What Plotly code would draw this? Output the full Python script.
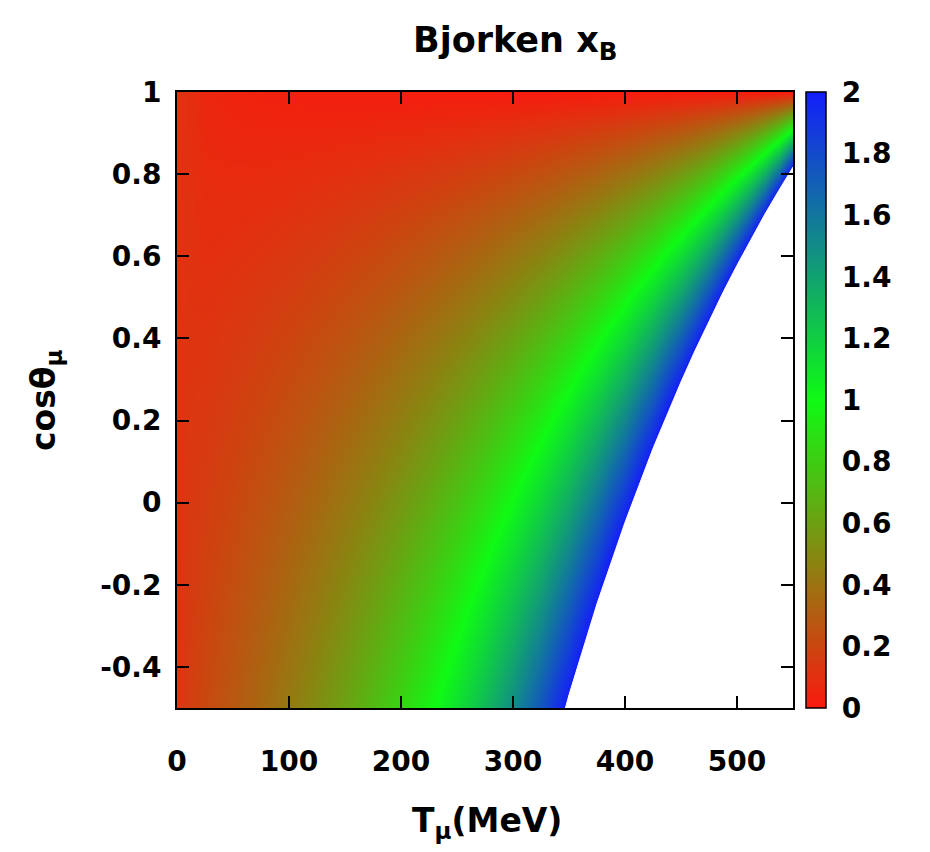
import plotly.graph_objects as go

# ---- data ----
# muon kinetic energy (MeV) of each sampled column
T_MeV = [0, 25, 50, 75, 100, 125, 150, 175, 200, 225, 250, 275, 300, 325, 350,
         375, 400, 425, 450, 462.5, 475, 487.5, 500, 512.5, 525, 537.5, 550]
# cos(theta_mu) of each sampled row
cos_theta = [-0.5, -0.25, 0.0, 0.25, 0.5, 0.75, 1.0]

# Bjorken x_B values, one list per cos(theta) row (values above 2 lie in the blank region)
xB_m050 = [0.123, 0.211, 0.281, 0.353, 0.431, 0.517, 0.611, 0.716, 0.834, 0.968, 1.121, 1.297, 1.504, 1.748,
           2.043, 2.404, 2.859, 3.447, 4.239, 4.748, 5.363, 6.123, 7.083, 8.338, 10.044, 12.502, 16.346]
xB_m025 = [0.123, 0.186, 0.242, 0.301, 0.365, 0.435, 0.513, 0.601, 0.699, 0.810, 0.937, 1.084, 1.256, 1.459,
           1.705, 2.006, 2.384, 2.875, 3.535, 3.959, 4.471, 5.104, 5.905, 6.950, 8.372, 10.420, 13.624]
xB_p000 = [0.123, 0.161, 0.202, 0.248, 0.298, 0.354, 0.416, 0.485, 0.563, 0.652, 0.753, 0.870, 1.008, 1.170,
           1.366, 1.607, 1.910, 2.302, 2.830, 3.169, 3.579, 4.085, 4.726, 5.562, 6.699, 8.338, 10.901]
xB_p025 = [0.123, 0.136, 0.163, 0.195, 0.232, 0.272, 0.318, 0.369, 0.427, 0.493, 0.569, 0.657, 0.760, 0.881,
           1.028, 1.209, 1.435, 1.729, 2.125, 2.380, 2.687, 3.067, 3.547, 4.174, 5.027, 6.256, 8.178]
xB_p050 = [0.123, 0.110, 0.124, 0.143, 0.165, 0.191, 0.220, 0.254, 0.292, 0.335, 0.385, 0.443, 0.511, 0.592,
           0.690, 0.810, 0.961, 1.157, 1.420, 1.590, 1.795, 2.048, 2.368, 2.786, 3.355, 4.174, 5.456]
xB_p075 = [0.123, 0.085, 0.085, 0.090, 0.099, 0.110, 0.123, 0.138, 0.156, 0.177, 0.201, 0.230, 0.263, 0.303,
           0.352, 0.411, 0.487, 0.584, 0.716, 0.801, 0.903, 1.029, 1.189, 1.398, 1.682, 2.092, 2.733]
xB_p100 = [0.123, 0.060, 0.046, 0.038, 0.032, 0.028, 0.025, 0.023, 0.021, 0.019, 0.018, 0.016, 0.015, 0.014,
           0.014, 0.013, 0.012, 0.012, 0.011, 0.011, 0.011, 0.011, 0.010, 0.010, 0.010, 0.010, 0.010]
xB_rows = [xB_m050, xB_m025, xB_p000, xB_p025, xB_p050, xB_p075, xB_p100]

# edge of the blank (unplotted) region: T_mu vs cos(theta)
edge_T = [346.8, 350, 375, 400, 425, 450, 462.5, 475, 487.5, 500, 512.5, 525, 537.5, 550, 550]
edge_cos = [-0.5, -0.468, -0.246, -0.048, 0.132, 0.294, 0.370, 0.443, 0.512, 0.578, 0.642, 0.703, 0.761, 0.817, -0.5]

# tick labels
x_tickvals = [0, 100, 200, 300, 400, 500]
x_ticktext = ["0", "100", "200", "300", "400", "500"]
y_tickvals = [-0.4, -0.2, 0, 0.2, 0.4, 0.6, 0.8, 1]
y_ticktext = ["-0.4", "-0.2", "0", "0.2", "0.4", "0.6", "0.8", "1"]
cb_tickvals = [0, 0.2, 0.4, 0.6, 0.8, 1, 1.2, 1.4, 1.6, 1.8, 2]
cb_ticktext = ["0", "0.2", "0.4", "0.6", "0.8", "1", "1.2", "1.4", "1.6", "1.8", "2"]

FONT = "DejaVu Sans"
TICK_FONT = dict(family=FONT, size=28, color="black", weight="bold")
LABEL_FONT = dict(family=FONT, size=33, color="black", weight="bold")

fig = go.Figure()
fig.add_trace(go.Heatmap(
    x=T_MeV, y=cos_theta, z=xB_rows,
    zmin=0, zmax=2, zsmooth="best",
    colorscale=[[0, "rgb(250,25,15)"], [0.5, "rgb(15,250,20)"], [1, "rgb(20,30,250)"]],
    hoverinfo="skip",
    colorbar=dict(
        x=1.021, xanchor="left", xpad=0, y=0.5, yanchor="middle", ypad=0,
        len=1, lenmode="fraction", thickness=20,
        outlinecolor="black", outlinewidth=1.5,
        tickmode="array", tickvals=cb_tickvals, ticktext=cb_ticktext,
        ticks="outside", ticklen=10, tickcolor="rgba(0,0,0,0)",
        tickfont=TICK_FONT,
    ),
))
fig.add_trace(go.Scatter(
    x=edge_T, y=edge_cos, mode="lines", fill="toself",
    fillcolor="white", line=dict(color="white", width=1),
    hoverinfo="skip", showlegend=False,
))

axis_common = dict(
    showline=True, linecolor="black", linewidth=2, mirror="ticks",
    ticks="inside", ticklen=12, tickwidth=1.5, tickcolor="black",
    showgrid=False, zeroline=False, tickfont=TICK_FONT, layer="above traces",
)
fig.update_layout(
    width=930, height=852,
    margin=dict(l=177, r=137, t=92, b=144),
    paper_bgcolor="white", plot_bgcolor="white",
    showlegend=False,
    title=dict(text="Bjorken x<sub>B</sub>", x=0.554, xanchor="center",
               y=1 - 40 / 852, yanchor="middle",
               font=dict(family=FONT, size=35, color="black", weight="bold")),
    xaxis=dict(range=[0, 550], tickmode="array", tickvals=x_tickvals, ticktext=x_ticktext,
               ticklabelstandoff=27, **axis_common),
    yaxis=dict(range=[-0.5, 1], tickmode="array", tickvals=y_tickvals, ticktext=y_ticktext,
               ticklabelstandoff=8, **axis_common),
    annotations=[
        dict(text="T<sub>μ</sub>(MeV)", xref="paper", yref="paper",
             x=0.503, y=-(822 - 708) / 616, xanchor="center", yanchor="middle",
             showarrow=False, font=LABEL_FONT),
        dict(text="cosθ<sub>μ</sub>", xref="paper", yref="paper",
             x=-(177 - 45) / 616, y=(708 - 400) / 616, xanchor="center", yanchor="middle",
             textangle=-90, showarrow=False, font=LABEL_FONT),
    ],
)

fig.write_html("out.html")
